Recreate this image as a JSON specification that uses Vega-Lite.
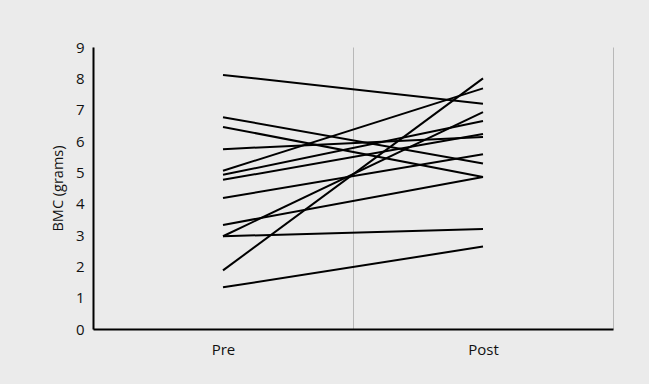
{
  "$schema": "https://vega.github.io/schema/vega-lite/v6.json",
  "autosize": {"type": "none"},
  "width": 520,
  "height": 282,
  "padding": {"left": 93, "top": 47, "right": 36, "bottom": 55},
  "background": "#ebebeb",
  "config": {
    "view": {"stroke": null},
    "font": "Open Sans"
  },
  "data": {
    "values": [
      {"id": 1, "time": "Pre", "bmc": 8.11}, {"id": 1, "time": "Post", "bmc": 7.19},
      {"id": 2, "time": "Pre", "bmc": 6.76}, {"id": 2, "time": "Post", "bmc": 5.28},
      {"id": 3, "time": "Pre", "bmc": 6.45}, {"id": 3, "time": "Post", "bmc": 4.85},
      {"id": 4, "time": "Pre", "bmc": 5.74}, {"id": 4, "time": "Post", "bmc": 6.13},
      {"id": 5, "time": "Pre", "bmc": 5.05}, {"id": 5, "time": "Post", "bmc": 7.68},
      {"id": 6, "time": "Pre", "bmc": 4.92}, {"id": 6, "time": "Post", "bmc": 6.64},
      {"id": 7, "time": "Pre", "bmc": 4.76}, {"id": 7, "time": "Post", "bmc": 6.22},
      {"id": 8, "time": "Pre", "bmc": 4.18}, {"id": 8, "time": "Post", "bmc": 5.58},
      {"id": 9, "time": "Pre", "bmc": 3.32}, {"id": 9, "time": "Post", "bmc": 4.85},
      {"id": 10, "time": "Pre", "bmc": 2.96}, {"id": 10, "time": "Post", "bmc": 3.19},
      {"id": 11, "time": "Pre", "bmc": 2.96}, {"id": 11, "time": "Post", "bmc": 6.92},
      {"id": 12, "time": "Pre", "bmc": 1.87}, {"id": 12, "time": "Post", "bmc": 8.0},
      {"id": 13, "time": "Pre", "bmc": 1.33}, {"id": 13, "time": "Post", "bmc": 2.63}
    ]
  },
  "mark": {"type": "line", "color": "#000000", "strokeWidth": 2},
  "encoding": {
    "x": {
      "field": "time",
      "type": "ordinal",
      "sort": ["Pre", "Post"],
      "scale": {"type": "band", "paddingInner": 0, "paddingOuter": 0},
      "axis": {
        "title": null,
        "labelAngle": 0,
        "ticks": false,
        "tickBand": "extent",
        "grid": true,
        "gridColor": "#b8b8b8",
        "gridWidth": 1,
        "domainColor": "#000000",
        "domainWidth": 2,
        "labelFontSize": 15,
        "labelColor": "#111111",
        "labelPadding": 13
      }
    },
    "y": {
      "field": "bmc",
      "type": "quantitative",
      "scale": {"domain": [0, 9], "nice": false},
      "axis": {
        "title": "BMC (grams)",
        "titleFontSize": 14.5,
        "titleFontWeight": "normal",
        "titleColor": "#111111",
        "titlePadding": 10,
        "values": [0, 1, 2, 3, 4, 5, 6, 7, 8, 9],
        "ticks": false,
        "grid": false,
        "domainColor": "#000000",
        "domainWidth": 2,
        "labelFontSize": 15,
        "labelColor": "#111111",
        "labelPadding": 9
      }
    },
    "detail": {"field": "id", "type": "nominal"}
  }
}
